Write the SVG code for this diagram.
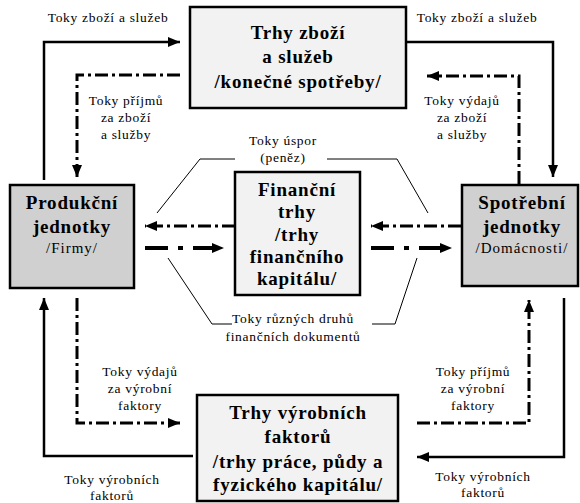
<svg xmlns="http://www.w3.org/2000/svg" width="580" height="503" viewBox="0 0 580 503">
<style>
.box{stroke:#000;stroke-width:2.5}
.lt{fill:#f2f2f2}
.dk{fill:#d0d0d0}
text{font-family:"Liberation Serif",serif;fill:#000;text-anchor:middle}
.t{font-weight:bold;font-size:19px;letter-spacing:0.8px}
.s{font-size:15px;letter-spacing:1px}
.l{font-size:13.5px;letter-spacing:0.7px}
.sol{fill:none;stroke:#000;stroke-width:2.5}
.dd{fill:none;stroke:#000;stroke-width:3;stroke-dasharray:13,4,3,4}
.dd2{fill:none;stroke:#000;stroke-width:4;stroke-dasharray:23,10,5,10}
.thin{fill:none;stroke:#000;stroke-width:1}
</style>
<defs>
<marker id="ah" markerUnits="userSpaceOnUse" markerWidth="13" markerHeight="10" refX="12" refY="5" orient="auto">
<path d="M0,0 L12,5 L0,10 z" fill="#000"/>
</marker>
</defs>
<rect width="580" height="503" fill="#fff"/>
<g id="connectors">
<path class="sol" d="M44,180 V42 H180" marker-end="url(#ah)"/>
<path class="dd" d="M180,75 H77 V177" marker-end="url(#ah)"/>
<path class="sol" d="M406,42 H553 V177" marker-end="url(#ah)"/>
<path class="dd" d="M519,184 V76 H427" marker-end="url(#ah)"/>
<path class="sol" d="M193,456 H44 V298" marker-end="url(#ah)"/>
<path class="dd" d="M77,298 V423 H180" marker-end="url(#ah)"/>
<path class="sol" d="M564,298 V457 H417" marker-end="url(#ah)"/>
<path class="dd" d="M417,423 H529 V300" marker-end="url(#ah)"/>
<path class="dd" d="M235,226 H145" marker-end="url(#ah)"/>
<path class="dd2" d="M145,248 H224" marker-end="url(#ah)"/>
<path class="dd" d="M461,226 H371" marker-end="url(#ah)"/>
<path class="dd2" d="M371,248 H452" marker-end="url(#ah)"/>
<path class="thin" d="M235,159 H200 L157,213"/>
<path class="thin" d="M327,159 H397 L428,213"/>
<path class="thin" d="M232,324 H212 L168,258"/>
<path class="thin" d="M372,324 H395 L417,258"/>
</g>
<g id="labels">
<text class="l" x="108" y="22">Toky zboží a služeb</text>
<text class="l" x="477" y="22">Toky zboží a služeb</text>
<text class="l" x="126" y="105">Toky  příjmů</text>
<text class="l" x="126" y="122">za zboží</text>
<text class="l" x="126" y="139">a služby</text>
<text class="l" x="462" y="105">Toky výdajů</text>
<text class="l" x="462" y="122">za zboží</text>
<text class="l" x="462" y="139">a služby</text>
<text class="l" x="283" y="145">Toky úspor</text>
<text class="l" x="283" y="162">(peněz)</text>
<text class="l" x="293" y="323">Toky různých druhů</text>
<text class="l" x="293" y="341">finančních dokumentů</text>
<text class="l" x="140" y="376">Toky výdajů</text>
<text class="l" x="140" y="393">za výrobní</text>
<text class="l" x="140" y="410">faktory</text>
<text class="l" x="473" y="376">Toky příjmů</text>
<text class="l" x="473" y="393">za  výrobní</text>
<text class="l" x="473" y="410">faktory</text>
<text class="l" x="112" y="484">Toky výrobních</text>
<text class="l" x="112" y="500">faktorů</text>
<text class="l" x="483" y="481">Toky výrobních</text>
<text class="l" x="483" y="497">faktorů</text>
</g>
<g id="trhy-zbozi">
<rect class="box lt" x="190" y="7" width="216" height="101"/>
<text class="t" x="298" y="39">Trhy zboží</text>
<text class="t" x="298" y="63">a  služeb</text>
<text class="t" x="298" y="88">/konečné spotřeby/</text>
</g>
<g id="produkcni">
<rect class="box dk" x="10" y="185" width="124" height="103"/>
<text class="t" x="72" y="209">Produkční</text>
<text class="t" x="72" y="233">jednotky</text>
<text class="s" x="72" y="253">/Firmy/</text>
</g>
<g id="financni">
<rect class="box lt" x="235" y="172" width="125" height="123"/>
<text class="t" x="297" y="196">Finanční</text>
<text class="t" x="297" y="218">trhy</text>
<text class="t" x="297" y="241">/trhy</text>
<text class="t" x="297" y="263">finančního</text>
<text class="t" x="297" y="285">kapitálu/</text>
</g>
<g id="spotrebni">
<rect class="box dk" x="462" y="185" width="116" height="101"/>
<text class="t" x="522" y="209">Spotřební</text>
<text class="t" x="522" y="233">jednotky</text>
<text class="s" x="522" y="253">/Domácnosti/</text>
</g>
<g id="trhy-faktoru">
<rect class="box lt" x="197" y="395" width="201" height="106"/>
<text class="t" x="298" y="419">Trhy výrobních</text>
<text class="t" x="298" y="443">faktorů</text>
<text class="t" x="298" y="468">/trhy práce, půdy a</text>
<text class="t" x="298" y="491">fyzického kapitálu/</text>
</g>
</svg>
